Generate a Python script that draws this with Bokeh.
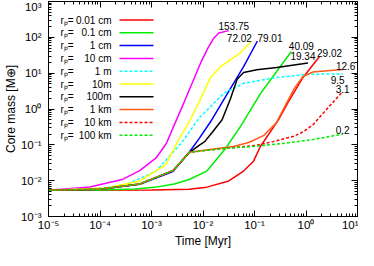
from bokeh.plotting import figure
from bokeh.models import LogAxis, FixedTicker, CustomJSTickFormatter, Label, Arrow, Range1d
from bokeh.core.properties import value
from bokeh.embed import file_html
from bokeh.resources import INLINE

# ---------------- data ----------------
sizes = ["0.01 cm", "0.1 cm", "1 cm", "10 cm", "1 m", "10m", "100m", "1 km", "10 km", "100 km"]

t_001cm = [1e-5, 1e-3, 5.4e-3, 0.0119, 0.0316, 0.0614, 0.0957, 0.13, 0.29, 0.451, 0.875, 1.83]
m_001cm = [0.0054, 0.0055, 0.0058, 0.0066, 0.0098, 0.0185, 0.035, 0.09, 0.49, 1.56, 7.6, 29.02]

t_01cm = [1e-5, 1e-4, 4.71e-4, 1.14e-3, 2.77e-3, 5.38e-3, 0.0119, 0.0274, 0.056, 0.136, 0.52]
m_01cm = [0.0054, 0.0055, 0.0059, 0.0065, 0.0081, 0.0108, 0.0185, 0.079, 0.36, 2.94, 40.09]

t_1cm = [1e-5, 1e-4, 5.9e-4, 2.6e-3, 5.4e-3, 8.4e-3, 0.014, 0.0316, 0.0614, 0.114]
m_1cm = [0.0054, 0.0058, 0.0079, 0.018, 0.062, 0.149, 0.44, 3.1, 15.2, 79.01]

t_10cm = [1e-5, 6.4e-5, 2.8e-4, 5.9e-4, 1.23e-3, 1.94e-3, 2.77e-3, 4.31e-3, 9.04e-3, 0.0125, 0.0163, 0.0203, 0.0316]
m_10cm = [0.0054, 0.0067, 0.011, 0.019, 0.043, 0.109, 0.36, 1.56, 19.6, 50.8, 95.9, 131.6, 153.75]

t_1m = [1e-5, 6.43e-5, 2.77e-4, 1.23e-3, 4.0e-3, 8.4e-3, 0.0254, 0.0614, 0.265, 1.18, 5.15]
m_1m = [0.0054, 0.0058, 0.0071, 0.0185, 0.123, 0.56, 2.75, 5.2, 7.6, 9.35, 9.5]

t_10m = [1e-5, 1.35e-4, 5.9e-4, 1.9e-3, 3.45e-3, 5.4e-3, 8.4e-3, 0.014, 0.0219, 0.053, 0.083]
m_10m = [0.0054, 0.0062, 0.0098, 0.028, 0.149, 0.44, 1.56, 7.6, 15.2, 37.0, 72.02]

t_100m = [1e-5, 1e-4, 5.9e-4, 2.6e-3, 5.5e-3, 8.4e-3, 0.0108, 0.0149, 0.0235, 0.034, 0.046, 0.0614, 0.111, 0.27, 1.09]
m_100m = [0.0054, 0.0058, 0.0081, 0.019, 0.062, 0.096, 0.123, 0.218, 0.5, 1.9, 6.8, 10.4, 12.4, 14.3, 19.34]

t_1km = [1e-5, 1e-4, 5.9e-4, 2.6e-3, 5.4e-3, 0.0163, 0.039, 0.077, 0.149, 0.265, 0.41, 0.61, 0.875, 1.36, 5.15]
m_1km = [0.0054, 0.0058, 0.0081, 0.019, 0.062, 0.077, 0.090, 0.116, 0.18, 0.41, 1.37, 4.0, 8.1, 10.8, 12.6]

t_10km = [1e-5, 1e-4, 5.9e-4, 2.6e-3, 5.4e-3, 0.0256, 0.104, 0.23, 0.56, 0.875, 1.36, 2.65, 5.15]
m_10km = [0.0054, 0.0058, 0.0081, 0.019, 0.062, 0.079, 0.096, 0.123, 0.17, 0.23, 0.36, 1.06, 3.1]

t_100km = [1e-5, 1e-4, 5.9e-4, 2.6e-3, 5.4e-3, 0.0256, 0.093, 0.36, 1.36, 5.15]
m_100km = [0.0054, 0.0058, 0.0081, 0.019, 0.062, 0.079, 0.09, 0.109, 0.14, 0.2]

end_labels = ["29.02", "40.09", "79.01", "153.75", "9.5", "72.02", "19.34", "12.6", "3.1", "0.2"]

x_ticks = [1e-5, 1e-4, 1e-3, 1e-2, 1e-1, 1.0, 10.0]
x_tick_labels = ["10⁻⁵", "10⁻⁴", "10⁻³", "10⁻²", "10⁻¹", "10⁰", "10¹"]
y_ticks = [1e-3, 1e-2, 1e-1, 1.0, 10.0, 100.0, 1000.0]
y_tick_labels = ["10⁻³", "10⁻²", "10⁻¹", "10⁰", "10¹", "10²", "10³"]
x_title = "Time [Myr]"
y_title = "Core mass [M⊕]"

# ---------------- styles ----------------
series_t = [t_001cm, t_01cm, t_1cm, t_10cm, t_1m, t_10m, t_100m, t_1km, t_10km, t_100km]
series_m = [m_001cm, m_01cm, m_1cm, m_10cm, m_1m, m_10m, m_100m, m_1km, m_10km, m_100km]
colors = ["#ff0000", "#00ee00", "#0000ff", "#ff00ff", "#00ffff", "#ffff00", "#000000", "#ff5a14", "#ff0000", "#00ee00"]
dashes = ["solid", "solid", "solid", "solid", "3 2", "solid", "solid", "solid", "3 2", "3 2"]
label_dx = [10, 10, 12.5, 5, -5, -11, -5, 3, 0, 0]
label_dy = [-3.5, -5.5, -3, -5, 6, -4, -6.5, -4, -2, -4]

FONT = "Liberation Sans"

p = figure(width=358, height=250, x_axis_type="log", y_axis_type="log",
           x_range=Range1d(1e-5, 10), y_range=Range1d(1e-3, 1e3),
           output_backend="svg", toolbar_location=None,
           min_border_left=47, min_border_right=1, min_border_top=1, min_border_bottom=28,
           background_fill_color="white", border_fill_color="white")
p.outline_line_color = "black"
p.xgrid.visible = False
p.ygrid.visible = False

x_minor = [m * 10.0 ** e for e in range(-5, 1) for m in range(2, 10)]
y_minor = [m * 10.0 ** e for e in range(-3, 3) for m in range(2, 10)]
xt = FixedTicker(ticks=x_ticks, minor_ticks=x_minor)
yt = FixedTicker(ticks=y_ticks, minor_ticks=y_minor)

fmt_code = """
let best = 0, bd = Infinity;
for (let i = 0; i < tv.length; i++) {
  const d = Math.abs(Math.log10(tick) - Math.log10(tv[i]));
  if (d < bd) { bd = d; best = i; }
}
return tl[best];
"""
bottom = p.below[0]
left = p.left[0]
bottom.ticker = xt
left.ticker = yt
bottom.formatter = CustomJSTickFormatter(args=dict(tv=x_ticks, tl=x_tick_labels), code=fmt_code)
left.formatter = CustomJSTickFormatter(args=dict(tv=y_ticks, tl=y_tick_labels), code=fmt_code)

top = LogAxis(ticker=xt, formatter=CustomJSTickFormatter(code="return ''"), major_label_text_font_size="0px")
right = LogAxis(ticker=yt, formatter=CustomJSTickFormatter(code="return ''"), major_label_text_font_size="0px")
p.add_layout(top, "above")
p.add_layout(right, "right")

for ax in [bottom, left, top, right]:
    ax.major_tick_in = 6
    ax.major_tick_out = 0
    ax.minor_tick_in = 3
    ax.minor_tick_out = 0
    ax.axis_line_color = "black"
    ax.major_tick_line_color = "black"
    ax.minor_tick_line_color = "black"
    ax.major_label_text_font = FONT
    ax.major_label_text_color = "black"
for ax in [top, right]:
    ax.major_label_standoff = 0

bottom.major_label_text_font_size = "11.5px"
left.major_label_text_font_size = "11.5px"
bottom.major_label_standoff = 2
left.major_label_standoff = 7
bottom.axis_label = x_title
left.axis_label = y_title
for ax in [bottom, left]:
    ax.axis_label_text_font = FONT
    ax.axis_label_text_font_size = "12px"
    ax.axis_label_text_font_style = "normal"
    ax.axis_label_text_color = "black"
    ax.axis_label_standoff = 0

# curves
for t, m, c, d in zip(series_t, series_m, colors, dashes):
    p.line(t, m, line_color=c, line_width=1.5, line_dash=d)

# final-mass labels at curve ends
p.text(x=[t[-1] for t in series_t], y=[m[-1] for m in series_m], text=end_labels,
       x_offset=label_dx, y_offset=label_dy,
       text_font=value(FONT), text_font_size="10px", text_color="black",
       text_align="center", text_baseline="middle")

# legend (text on the left, sample line on the right)
for i, (s, c, d) in enumerate(zip(sizes, colors, dashes)):
    yy = 19.5 + 12.8 * i
    p.add_layout(Label(x=60, y=yy, x_units="canvas", y_units="canvas", text="rₚ=",
                       text_align="left", text_baseline="middle",
                       text_font=FONT, text_font_size="10px", text_color="black"))
    p.add_layout(Label(x=111, y=yy, x_units="canvas", y_units="canvas", text=s,
                       text_align="right", text_baseline="middle",
                       text_font=FONT, text_font_size="10px", text_color="black"))
    p.add_layout(Arrow(x_start=119, y_start=yy, x_end=153, y_end=yy,
                       start_units="canvas", end_units="canvas", end=None,
                       line_color=c, line_width=1.5, line_dash=d))

open("out.html", "w").write(file_html(p, INLINE))
